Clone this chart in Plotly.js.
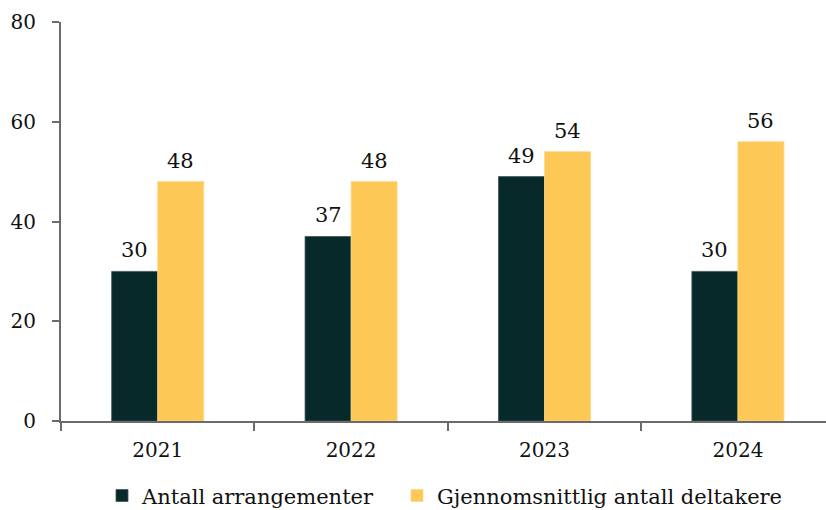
<!DOCTYPE html>
<html>
<head>
<meta charset="utf-8">
<script src="https://cdn.plot.ly/plotly-3.0.1.min.js"></script>
<style>
  html, body { margin: 0; padding: 0; background: #fff; overflow: hidden; }
  #chart { width: 826px; height: 510px; }
</style>
</head>
<body>
<div id="chart"></div>
<script>
// Arrangementer og gjennomsnittlig antall deltakere per år
const years = ['2021', '2022', '2023', '2024'];
const antallArrangementer = [30, 37, 49, 30];
const snittDeltakere = [48, 48, 54, 56];
const seriesNames = ['Antall arrangementer', 'Gjennomsnittlig antall deltakere'];
const yTicks = [0, 20, 40, 60, 80];

const FONT = 'DejaVu Serif, Georgia, serif';
const DARK = '#08292a';
const GOLD = '#fec857';
const AXIS = '#6b6b6b';

const traces = [
  {
    type: 'bar', name: seriesNames[0], x: years, y: antallArrangementer,
    marker: { color: DARK, line: { color: '#3d5556', width: 0.8 } },
    legend: 'legend', hoverinfo: 'skip'
  },
  {
    type: 'bar', name: seriesNames[1], x: years, y: snittDeltakere,
    marker: { color: GOLD, line: { color: '#fdd886', width: 0.8 } },
    legend: 'legend2', hoverinfo: 'skip'
  }
];

// value labels above each bar; x is the category index, shifted onto each bar centre
const BAR_PX = 46;
const annotations = [];
[antallArrangementer, snittDeltakere].forEach((vals, s) => {
  vals.forEach((v, i) => {
    annotations.push({
      x: i, y: v, xref: 'x', yref: 'y',
      text: String(v), showarrow: false,
      xanchor: 'center', yanchor: 'bottom',
      xshift: (s === 0 ? -1 : 1) * BAR_PX / 2, yshift: 7,
      font: { family: FONT, size: 21, color: '#111' }
    });
  });
});

// one legend box per series, laid out side by side under the axis
function legendAt(xFrac) {
  return {
    orientation: 'h',
    xref: 'container', x: xFrac, xanchor: 'left',
    yref: 'container', y: 0.068, yanchor: 'top',
    font: { family: FONT, size: 21, color: '#111' },
    itemclick: false, itemdoubleclick: false
  };
}

const layout = {
  width: 826, height: 510,
  margin: { l: 61, r: 0, t: 22, b: 89, autoexpand: false },
  paper_bgcolor: '#fff', plot_bgcolor: '#fff',
  barmode: 'group', bargap: 0.524, bargroupgap: 0,
  font: { family: FONT, size: 21, color: '#111' },
  xaxis: {
    type: 'category', range: [-0.5, 3.4555], automargin: false,
    tickson: 'boundaries', ticks: 'outside', ticklen: 8, tickwidth: 2, tickcolor: AXIS,
    showline: true, linecolor: AXIS, linewidth: 2,
    showgrid: false, zeroline: false, ticklabelstandoff: 10,
    tickfont: { family: FONT, size: 20, color: '#111' }
  },
  yaxis: {
    range: [0, 80], tickvals: yTicks, ticktext: yTicks.map(String), automargin: false,
    ticks: 'outside', ticklen: 7, tickwidth: 2, tickcolor: AXIS,
    showline: true, linecolor: AXIS, linewidth: 2,
    showgrid: false, zeroline: false, ticklabelstandoff: 12,
    tickfont: { family: FONT, size: 20, color: '#111' }
  },
  showlegend: true,
  legend: legendAt(0.1235),
  legend2: legendAt(0.4806),
  annotations: annotations
};

Plotly.newPlot('chart', traces, layout, { staticPlot: true, displayModeBar: false });
</script>
</body>
</html>
